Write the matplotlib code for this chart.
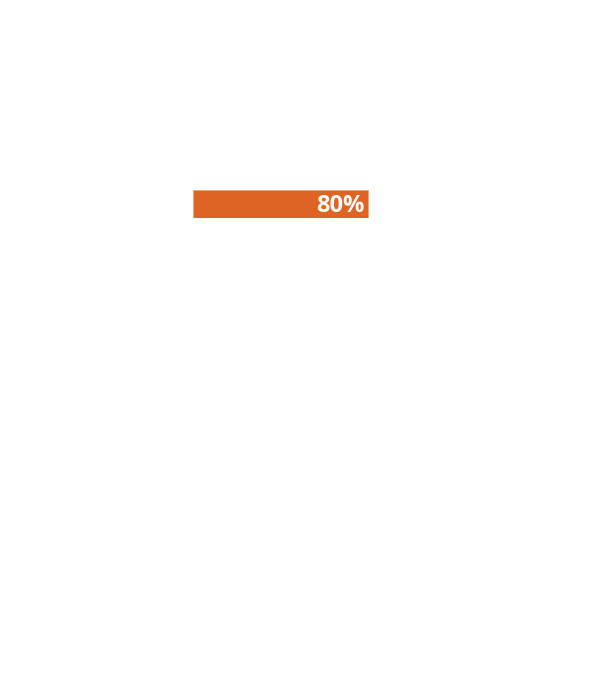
import matplotlib
matplotlib.use("Agg")
import matplotlib.pyplot as plt

categories = ["Progress"]
values = [80]
labels = ["80%"]

W, H = 605, 680
fig = plt.figure(figsize=(W / 100, H / 100), dpi=100)
left_px, right_px = 193, 412
top_px, bot_px = 190, 218
ax = fig.add_axes([left_px / W, 1 - bot_px / H, (right_px - left_px) / W, (bot_px - top_px) / H])
ax.barh(categories, values, height=1.0, color="#DD6423", edgecolor="#F0A070", linewidth=0.6)
ax.set_xlim(0, 100)
ax.set_ylim(-0.5, 0.5)
for c, v, l in zip(categories, values, labels):
    ax.text(v - 1.8, -0.06, l, ha="right", va="center", color="white",
            fontsize=17, fontweight="bold", family=["Open Sans", "DejaVu Sans"])
ax.axis("off")
fig.savefig("out.png", dpi=100)
